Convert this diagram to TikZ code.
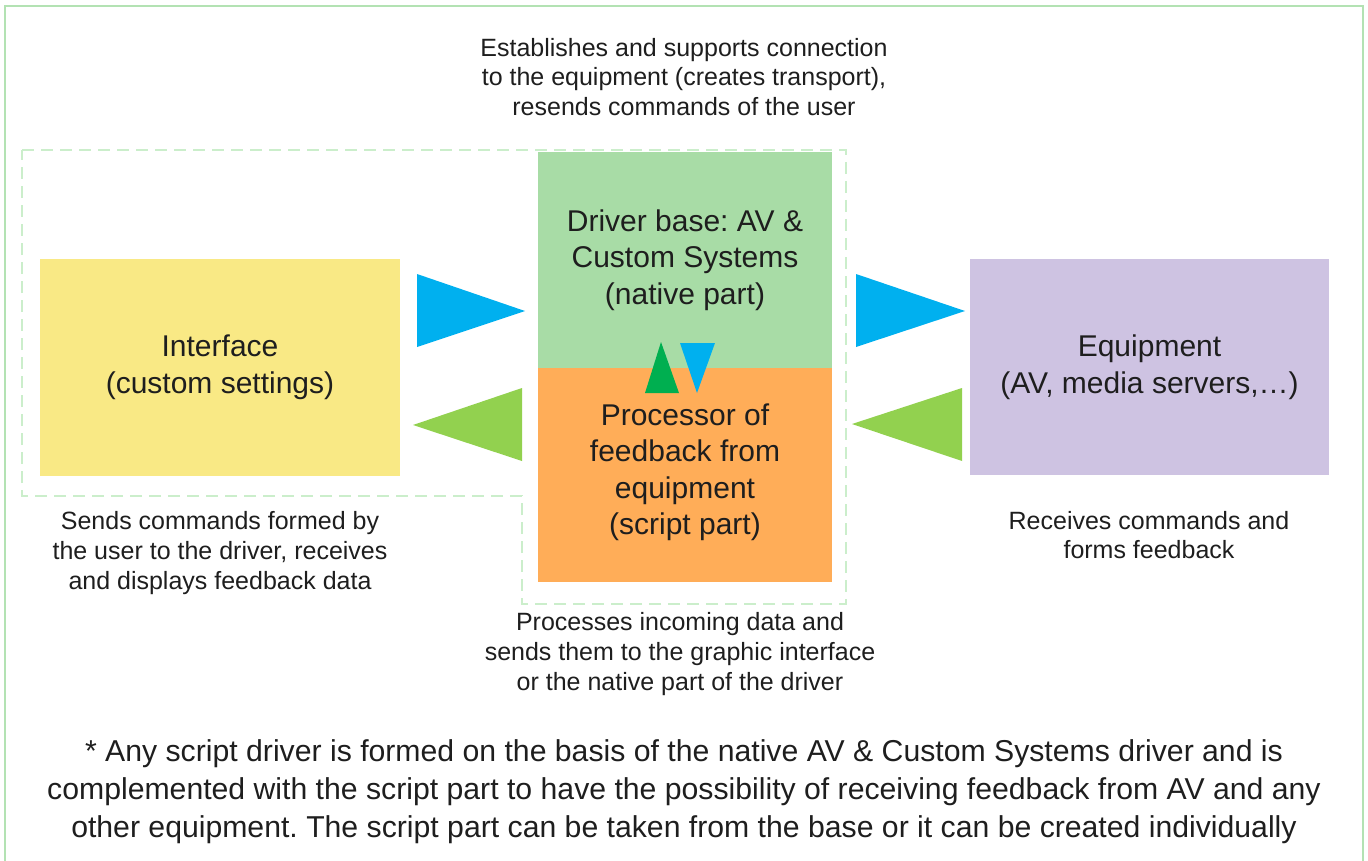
\documentclass[tikz,border=0pt]{standalone}
\usepackage{fontspec}
\setmainfont{Liberation Sans}
\frenchspacing
\definecolor{ifacefill}{HTML}{F9E985}
\definecolor{drvfill}{HTML}{A8DCA6}
\definecolor{procfill}{HTML}{FFAD58}
\definecolor{equipfill}{HTML}{CEC3E2}
\definecolor{flowblue}{HTML}{00B0EF}
\definecolor{flowgreen}{HTML}{92D14F}
\definecolor{flowdark}{HTML}{00AF50}
\definecolor{framegreen}{HTML}{B3E2B3}
\definecolor{dashgreen}{HTML}{CBEECB}
\definecolor{ink}{HTML}{1E1E1E}
\begin{document}
\begin{tikzpicture}[x=1pt,y=-1pt,
  block/.style={draw=none, inner sep=0pt, align=center, text=ink,
    font=\fontsize{30}{36.5}\selectfont},
  note/.style={inner sep=0pt, align=center, text=ink,
    font=\fontsize{25}{29.8}\selectfont},
  footnote/.style={inner sep=0pt, align=center, text=ink,
    font=\fontsize{30.2}{38}\selectfont},
  flow/.style={draw=none}]
\useasboundingbox (0,0) rectangle (1368,861);

% outer frame, open at the bottom
\draw[framegreen, line width=2pt] (5,861) -- (5,6) -- (1363,6) -- (1363,861);

% dashed outline around interface and driver
\draw[dashgreen, line width=2pt, dash pattern=on 12pt off 7pt]
  (22,150) -- (846,150) -- (846,604) -- (522,604) -- (522,496) -- (22,496) -- cycle;

% blocks
\node[block, fill=ifacefill, minimum width=360pt, minimum height=217pt] (iface) at (220,367.5)
  {Interface\\(custom settings)};
\node[block, fill=drvfill, minimum width=294pt, minimum height=216pt] (drv) at (685,260)
  {Driver base: AV \&\\Custom Systems\\(native part)};
\node[block, fill=procfill, minimum width=294pt, minimum height=214pt] (proc) at (685,475)
  {};
\node[block] (proctext) at (685,472.5)
  {Processor of\\feedback from\\equipment\\(script part)};
\node[block, fill=equipfill, minimum width=359pt, minimum height=216pt] (equip) at (1149.5,367)
  {Equipment\\(AV, media servers,\dots)};

% flow triangles
\fill[flowblue]  (417,274) -- (417,347) -- (525,311) -- cycle;
\fill[flowgreen] (522,388) -- (522,461) -- (413,425) -- cycle;
\fill[flowblue]  (856,274) -- (856,347) -- (965,311) -- cycle;
\fill[flowgreen] (962,388) -- (962,461) -- (852,424) -- cycle;
\fill[flowdark]  (661,342) -- (679,393) -- (645,393) -- cycle;
\fill[flowblue]  (680,343) -- (715,343) -- (697,393) -- cycle;

% descriptions
\node[note] (topnote) at (684,77)
  {Establishes and supports connection\\to the equipment (creates transport),\\resends commands of the user};
\node[note] (ifacenote) at (220,553)
  {Sends commands formed by\\the user to the driver, receives\\and displays feedback data};
\node[note] (equipnote) at (1149,535)
  {Receives commands and\\forms feedback};
\node[note] (procnote) at (680,654)
  {Processes incoming data and\\sends them to the graphic interface\\or the native part of the driver};

\node[footnote] (foot) at (684,792)
  {* Any script driver is formed on the basis of the native AV \& Custom Systems driver and is\\
   complemented with the script part to have the possibility of receiving feedback from AV and any\\
   other equipment. The script part can be taken from the base or it can be created individually};
\end{tikzpicture}
\end{document}
